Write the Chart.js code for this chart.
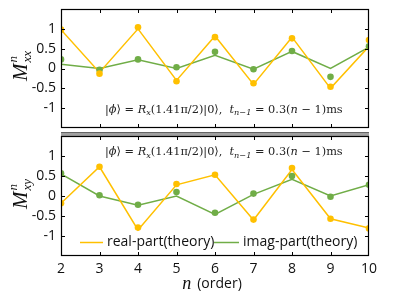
<!DOCTYPE html>
<html><head><meta charset="utf-8">
<script src="https://cdn.jsdelivr.net/npm/chart.js@4"></script>
<style>
html,body{margin:0;padding:0;background:#fff;width:415px;height:299px;overflow:hidden}
#c1{position:absolute;left:0;top:0}
#c2{position:absolute;left:0;top:132px}
</style></head><body>
<canvas id="c1" width="415" height="132"></canvas>
<canvas id="c2" width="415" height="167"></canvas>
<script>
const orders = [2,3,4,5,6,7,8,9,10];
const yTickValues = [-1,-0.5,0,0.5,1];
const xxRealTheory = [0.98,-0.10,1.00,-0.30,0.82,-0.40,0.79,-0.50,0.56];
const xxImagTheory = [0.11,0.00,0.22,0.00,0.33,-0.02,0.43,0.00,0.54];
const xxRealExp    = [0.98,-0.13,1.04,-0.32,0.79,-0.37,0.76,-0.46,0.72];
const xxImagExp    = [0.23,-0.03,0.23,0.03,0.42,-0.02,0.44,-0.21,0.56];
const xyRealTheory = [-0.18,0.73,-0.85,0.28,0.53,-0.60,0.66,-0.57,-0.80];
const xyImagTheory = [0.55,0.00,-0.23,0.00,-0.46,0.04,0.42,0.00,0.28];
const xyRealExp    = [-0.18,0.73,-0.79,0.30,0.53,-0.59,0.70,-0.57,-0.81];
const xyImagExp    = [0.57,0.02,-0.22,0.10,-0.42,0.06,0.50,-0.02,0.28];
const legendLabels = ['real-part(theory)','imag-part(theory)'];

const YEL = '#FFC000', GRN = '#70AD47';
const SANS = '"Open Sans", sans-serif';
const SERIF = '"DejaVu Serif", "Liberation Serif", serif';

function pts(vals){ return orders.map((n,i)=>({x:n,y:vals[i]})); }

function makeDatasets(rT, iT, rE, iE){
  return [
    {label:'real-exp', data:pts(rE), showLine:false, pointRadius:3.3, pointBackgroundColor:YEL, pointBorderColor:YEL, pointBorderWidth:0, backgroundColor:YEL},
    {label:'imag-exp', data:pts(iE), showLine:false, pointRadius:3.3, pointBackgroundColor:GRN, pointBorderColor:GRN, pointBorderWidth:0, backgroundColor:GRN},
    {label:legendLabels[0], data:pts(rT), showLine:true, borderColor:YEL, borderWidth:1.5, pointRadius:0, tension:0},
    {label:legendLabels[1], data:pts(iT), showLine:true, borderColor:GRN, borderWidth:1.5, pointRadius:0, tension:0}
  ];
}

const annPieces = [
  ['|',false],['ϕ',true],['⟩ = ',false],['R',true],['x',true,'sub'],['(1.41π/2)|0⟩',false],[',  ',false],
  ['t',true],['n−1',true,'sub'],[' = 0.3(',false],['n',true],[' − 1)ms',false]
];
function annWidth(ctx, size){
  let w = 0;
  for (const p of annPieces){
    const fs = p[2]==='sub' ? size*0.72 : size;
    ctx.font = (p[1]?'italic ':'') + fs + 'px ' + SERIF;
    w += ctx.measureText(p[0]).width;
  }
  return w;
}
function drawAnnotation(ctx, xStart, xEnd, yMid){
  ctx.save();
  const size = 12 * (xEnd - xStart) / annWidth(ctx, 12);
  ctx.fillStyle = '#222';
  ctx.textBaseline = 'middle';
  ctx.textAlign = 'left';
  let x = xStart;
  for (const p of annPieces){
    const sub = p[2]==='sub';
    const fs = sub ? size*0.72 : size;
    ctx.font = (p[1]?'italic ':'') + fs + 'px ' + SERIF;
    ctx.fillText(p[0], x, yMid + (sub?3:0));
    x += ctx.measureText(p[0]).width;
  }
  ctx.restore();
}

function drawYTitle(ctx, cx, cy, sub){
  ctx.save();
  ctx.translate(cx, cy);
  ctx.rotate(-Math.PI/2);
  ctx.fillStyle = '#111';
  ctx.textBaseline = 'alphabetic';
  ctx.textAlign = 'left';
  const BIG = 'italic 21px "Liberation Serif", serif', SM = 'italic 13px "Liberation Serif", serif';
  ctx.font = BIG;
  const wM = ctx.measureText('M').width;
  ctx.font = SM;
  const wS = Math.max(ctx.measureText('n').width, ctx.measureText(sub).width);
  const total = wM + wS + 1;
  let x = -total/2;
  ctx.font = BIG;
  ctx.fillText('M', x, 7);
  x += wM + 1;
  ctx.font = SM;
  ctx.fillText('n', x, -3);
  ctx.fillText(sub, x, 11);
  ctx.restore();
}

function framePlugin(cfg){
  return {
    id: 'frame_' + cfg.name,
    afterDraw(chart){
      const ctx = chart.ctx, a = chart.chartArea;
      const xs = chart.scales.x, ys = chart.scales.y;
      ctx.save();
      if (cfg.band){
        ctx.fillStyle = '#a0a0a0';
        ctx.fillRect(a.left, 0, a.right - a.left, a.top);
        ctx.fillStyle = '#555';
        ctx.fillRect(a.left, 0, a.right - a.left, 0.8);
      }
      ctx.strokeStyle = '#000';
      ctx.lineWidth = 1.2;
      ctx.strokeRect(a.left + 0.5, a.top + 0.5, a.right - a.left - 1, a.bottom - a.top - 1);
      ctx.lineWidth = 1;
      ctx.beginPath();
      for (const v of yTickValues){
        const y = Math.round(ys.getPixelForValue(v)) + 0.5;
        ctx.moveTo(a.left, y); ctx.lineTo(a.left + 4, y);
        ctx.moveTo(a.right, y); ctx.lineTo(a.right - 4, y);
      }
      for (const n of orders.slice(1,-1)){
        const x = Math.round(xs.getPixelForValue(n)) + 0.5;
        ctx.moveTo(x, a.top); ctx.lineTo(x, a.top + 4);
        ctx.moveTo(x, a.bottom); ctx.lineTo(x, a.bottom - 4);
      }
      ctx.stroke();
      ctx.restore();
      drawAnnotation(ctx, 105, 343, cfg.annY);
      drawYTitle(ctx, 20, cfg.titleY, cfg.sub);
      if (cfg.legend){
        ctx.save();
        ctx.lineWidth = 1.5;
        ctx.font = '14px ' + SANS;
        ctx.textBaseline = 'middle';
        ctx.fillStyle = '#111';
        const ly = a.top + 106.5;
        const items = [[80,103,107,YEL,legendLabels[0]],[214,239,243,GRN,legendLabels[1]]];
        for (const it of items){
          ctx.strokeStyle = it[3];
          ctx.beginPath(); ctx.moveTo(it[0], ly); ctx.lineTo(it[1], ly); ctx.stroke();
          ctx.fillText(it[4], it[2], ly);
        }
        const ty = a.bottom + 28;
        ctx.font = 'italic 18px "Liberation Serif", serif';
        const wn = ctx.measureText('n').width;
        ctx.font = '14px ' + SANS;
        const wo = ctx.measureText('(order)').width;
        let x0 = (a.left + a.right)/2 - (wn + 6 + wo)/2 - 3;
        ctx.textAlign = 'left';
        ctx.font = 'italic 18px "Liberation Serif", serif';
        ctx.fillText('n', x0, ty);
        ctx.font = '14px ' + SANS;
        ctx.fillText('(order)', x0 + wn + 6, ty);
        ctx.restore();
      }
    }
  };
}

function makeChart(id, datasets, cfg){
  return new Chart(document.getElementById(id), {
    type: 'scatter',
    data: { datasets },
    options: {
      responsive: false,
      animation: false,
      layout: { padding: { left: 0, right: 46, top: cfg.padTop, bottom: cfg.padBottom } },
      plugins: { legend: { display: false }, tooltip: { enabled: false } },
      scales: {
        x: {
          type: 'linear', min: 2, max: 10,
          display: cfg.showX,
          grid: { display: false, drawTicks: false },
          border: { display: false },
          ticks: { stepSize: 1, autoSkip: false, color: '#111', font: { family: SANS, size: 14 }, padding: 5, maxRotation: 0 },
          afterFit(s){ if (cfg.showX) s.height = cfg.xHeight; s.paddingLeft = 0; s.paddingRight = 0; }
        },
        y: {
          type: 'linear', min: -1.5, max: 1.5,
          grid: { display: false, drawTicks: false },
          border: { display: false },
          ticks: {
            stepSize: 0.5, autoSkip: false, color: '#111', font: { family: SANS, size: 14 }, padding: 5,
            callback: v => yTickValues.includes(v) ? String(v) : ''
          },
          afterFit(s){ s.width = 61; s.paddingTop = 0; s.paddingBottom = 0; }
        }
      }
    },
    plugins: [framePlugin(cfg)]
  });
}

makeChart('c1', makeDatasets(xxRealTheory, xxImagTheory, xxRealExp, xxImagExp),
  { name:'top', padTop: 9, padBottom: 1, showX: false, annY: 110, titleY: 66, sub: 'xx' });
makeChart('c2', makeDatasets(xyRealTheory, xyImagTheory, xyRealExp, xyImagExp),
  { name:'bot', padTop: 2, padBottom: 0, showX: true, xHeight: 43, annY: 20.5, titleY: 62, sub: 'xy', band: true, legend: true });
</script>
</body></html>
